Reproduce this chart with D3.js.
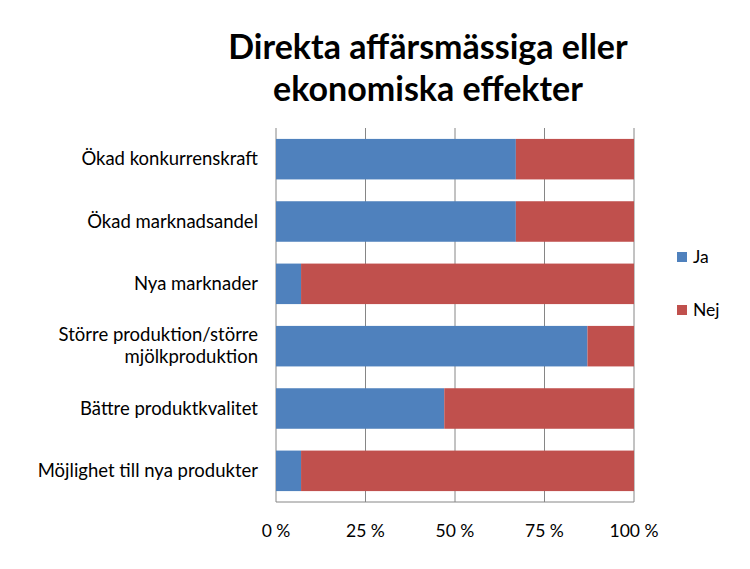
<!DOCTYPE html>
<html><head><meta charset="utf-8">
<script src="https://cdn.jsdelivr.net/npm/d3@7"></script>
<style>body{margin:0;background:#fff}text{font-family:Lato,"Open Sans",sans-serif}</style>
</head><body>
<svg id="c" width="750" height="569"></svg>
<script>
const categories=["Ökad konkurrenskraft","Ökad marknadsandel","Nya marknader","Större produktion/större\nmjölkproduktion","Bättre produktkvalitet","Möjlighet till nya produkter"];
const ja=[67,67,7,87,47,7];
const nej=[33,33,93,13,53,93];
const ticks=[0,25,50,75,100];
const svg=d3.select("#c");
const x=d3.scaleLinear().domain([0,100]).range([276,634]);
const y=d3.scaleBand().domain(categories).range([128,502]).paddingInner(0.35).paddingOuter(0.175);
svg.selectAll(".g").data(ticks).join("line").attr("x1",d=>x(d)).attr("x2",d=>x(d)).attr("y1",128).attr("y2",502).attr("stroke","#868686").attr("stroke-width",1);
svg.append("line").attr("x1",276).attr("x2",634).attr("y1",502).attr("y2",502).attr("stroke","#868686");
categories.forEach((c,i)=>{
 svg.append("rect").attr("x",x(0)).attr("y",y(c)).attr("width",x(ja[i])-x(0)).attr("height",y.bandwidth()).attr("fill","#4F81BD");
 svg.append("rect").attr("x",x(ja[i])).attr("y",y(c)).attr("width",x(ja[i]+nej[i])-x(ja[i])).attr("height",y.bandwidth()).attr("fill","#C0504D");
 const lines=c.split("\n");const cy=y(c)+y.bandwidth()/2;
 lines.forEach((l,j)=>svg.append("text").attr("x",258).attr("y",cy+(j-(lines.length-1)/2)*22+6).attr("text-anchor","end").attr("font-size",18.5).attr("fill","#000").text(l));
});
ticks.forEach(t=>svg.append("text").attr("x",x(t)).attr("y",537).attr("text-anchor","middle").attr("font-size",17.5).text(t+" %"));
svg.append("text").attr("x",428).attr("y",59).attr("text-anchor","middle").attr("font-size",34).attr("font-weight","bold").text("Direkta affärsmässiga eller");
svg.append("text").attr("x",428).attr("y",101).attr("text-anchor","middle").attr("font-size",34).attr("font-weight","bold").text("ekonomiska effekter");
[["Ja","#4F81BD",257],["Nej","#C0504D",310]].forEach(([n,c,yy])=>{
 svg.append("rect").attr("x",677).attr("y",yy-5).attr("width",10).attr("height",10).attr("fill",c);
 svg.append("text").attr("x",693).attr("y",yy+6).attr("font-size",17.5).text(n);
});
</script></body></html>
